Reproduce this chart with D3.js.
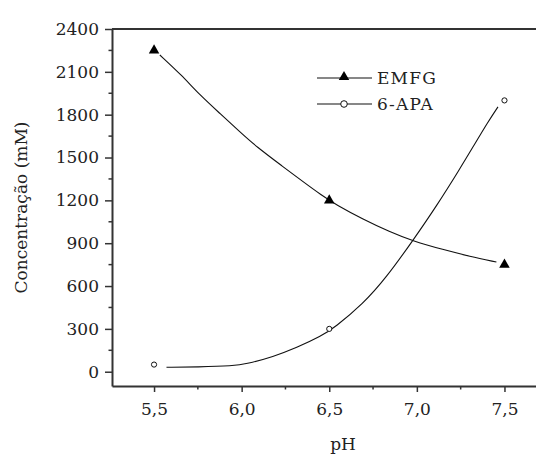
<!DOCTYPE html>
<html>
<head>
<meta charset="utf-8">
<script src="https://cdn.jsdelivr.net/npm/d3@7"></script>
<style>
  html, body { margin: 0; padding: 0; background: #fff; }
  svg { display: block; }
  text { font-family: "DejaVu Serif", "Liberation Serif", serif; fill: #222; }
</style>
</head>
<body>
<svg id="chart" width="536" height="457"></svg>
<script>
// Measured points
const phValues = [5.5, 6.5, 7.5];
const emfg = [2250, 1200, 750];
const apa = [50, 300, 1900];

// Fitted curves (pH, concentration)
const emfgFitPh = [5.533, 5.656, 5.761, 5.875, 5.989, 6.084, 6.236, 6.35, 6.455, 6.541, 6.693, 6.845, 6.978, 7.15, 7.302, 7.454];
const emfgFit   = [2218, 2078, 1938, 1810, 1681, 1576, 1436, 1331, 1237, 1168, 1068, 980, 915, 855, 808, 768];
const apaFitPh  = [5.571, 5.75, 5.95, 6.03, 6.18, 6.313, 6.455, 6.531, 6.693, 6.826, 6.978, 7.112, 7.245, 7.321, 7.406, 7.463];
const apaFit    = [31, 33, 40, 55, 105, 168, 250, 310, 475, 660, 920, 1160, 1420, 1575, 1750, 1855];

const xTicks = [5.5, 6.0, 6.5, 7.0, 7.5];
const yTicks = [0, 300, 600, 900, 1200, 1500, 1800, 2100, 2400];
const legendNames = ["EMFG", "6-APA"];

const svg = d3.select("#chart");
const mLeft = 112, mRight = 536, mTop = 29, mBottom = 386;

const x = d3.scaleLinear().domain([5.26, 7.68]).range([mLeft, mRight]);
const y = d3.scaleLinear().domain([-100, 2400]).range([mBottom, mTop]);

const fmt = d => d.toFixed(1).replace(".", ",");

// minor ticks
const xMinor = d3.range(5.25, 7.7, 0.25).filter(v => !xTicks.some(t => Math.abs(t - v) < 1e-6) && v > 5.26);
const yMinor = d3.range(-150, 2400, 150).filter(v => v % 300 !== 0 && v > -100);

const axisColor = "#333";
const fs = 17;

// x axis
const xAxis = svg.append("g").attr("transform", `translate(0,${mBottom})`)
  .call(d3.axisBottom(x).tickValues(xTicks).tickFormat(fmt).tickSize(6).tickSizeOuter(0).tickPadding(11));
xAxis.select(".domain").attr("stroke", axisColor).attr("stroke-width", 2);
xAxis.selectAll(".tick line").attr("stroke", axisColor).attr("stroke-width", 1.5);
xAxis.selectAll(".tick text").attr("font-size", fs).attr("fill", "#222")
  .attr("font-family", "DejaVu Serif, serif");
svg.append("g").attr("transform", `translate(0,${mBottom})`)
  .selectAll("line").data(xMinor).join("line")
  .attr("x1", d => x(d)).attr("x2", d => x(d)).attr("y1", 0).attr("y2", 3.5)
  .attr("stroke", axisColor).attr("stroke-width", 1.5);

// y axis
const yAxis = svg.append("g").attr("transform", `translate(${mLeft},0)`)
  .call(d3.axisLeft(y).tickValues(yTicks).tickFormat(d3.format("d")).tickSize(7).tickSizeOuter(0).tickPadding(6));
yAxis.select(".domain").attr("stroke", axisColor).attr("stroke-width", 2);
yAxis.selectAll(".tick line").attr("stroke", axisColor).attr("stroke-width", 1.5);
yAxis.selectAll(".tick text").attr("font-size", fs).attr("fill", "#222")
  .attr("font-family", "DejaVu Serif, serif");
svg.append("g").attr("transform", `translate(${mLeft},0)`)
  .selectAll("line").data(yMinor).join("line")
  .attr("x1", 0).attr("x2", -3.5).attr("y1", d => y(d)).attr("y2", d => y(d))
  .attr("stroke", axisColor).attr("stroke-width", 1.5);

// top frame line
svg.append("line").attr("x1", mLeft).attr("x2", mRight).attr("y1", y(2400)).attr("y2", y(2400))
  .attr("stroke", axisColor).attr("stroke-width", 2);

// axis titles
svg.append("text").attr("x", 343).attr("y", 450).attr("text-anchor", "middle")
  .attr("font-size", fs).text("pH");
svg.append("text").attr("transform", `translate(27,${(mTop + mBottom) / 2}) rotate(-90)`)
  .attr("text-anchor", "middle").attr("font-size", fs).text("Concentração (mM)");

// fitted curves
const line = d3.line().x(d => x(d[0])).y(d => y(d[1])).curve(d3.curveBasis);
svg.append("path").datum(d3.zip(emfgFitPh, emfgFit)).attr("d", line)
  .attr("fill", "none").attr("stroke", "#111").attr("stroke-width", 1.1);
svg.append("path").datum(d3.zip(apaFitPh, apaFit)).attr("d", line)
  .attr("fill", "none").attr("stroke", "#111").attr("stroke-width", 1.1);

// markers
const tri = d3.symbol().type(d3.symbolTriangle).size(48);
svg.append("g").selectAll("path").data(d3.zip(phValues, emfg)).join("path")
  .attr("d", tri).attr("transform", d => `translate(${x(d[0])},${y(d[1])})`)
  .attr("fill", "#000");
svg.append("g").selectAll("circle").data(d3.zip(phValues, apa)).join("circle")
  .attr("cx", d => x(d[0])).attr("cy", d => y(d[1])).attr("r", 2.6)
  .attr("fill", "#fff").attr("stroke", "#111").attr("stroke-width", 1);

// legend
const lg = svg.append("g");
const legendY = [78, 104];
legendNames.forEach((name, i) => {
  lg.append("line").attr("x1", 317).attr("x2", 372).attr("y1", legendY[i]).attr("y2", legendY[i])
    .attr("stroke", "#111").attr("stroke-width", 1.2);
  if (i === 0) {
    lg.append("path").attr("d", tri).attr("transform", `translate(344,${legendY[i] - 1})`).attr("fill", "#000");
  } else {
    lg.append("circle").attr("cx", 344).attr("cy", legendY[i]).attr("r", 3.3)
      .attr("fill", "#fff").attr("stroke", "#111").attr("stroke-width", 1);
  }
  lg.append("text").attr("x", 377).attr("y", legendY[i] + 6).attr("font-size", fs)
    .attr("letter-spacing", 1.2).text(name);
});
</script>
</body>
</html>
